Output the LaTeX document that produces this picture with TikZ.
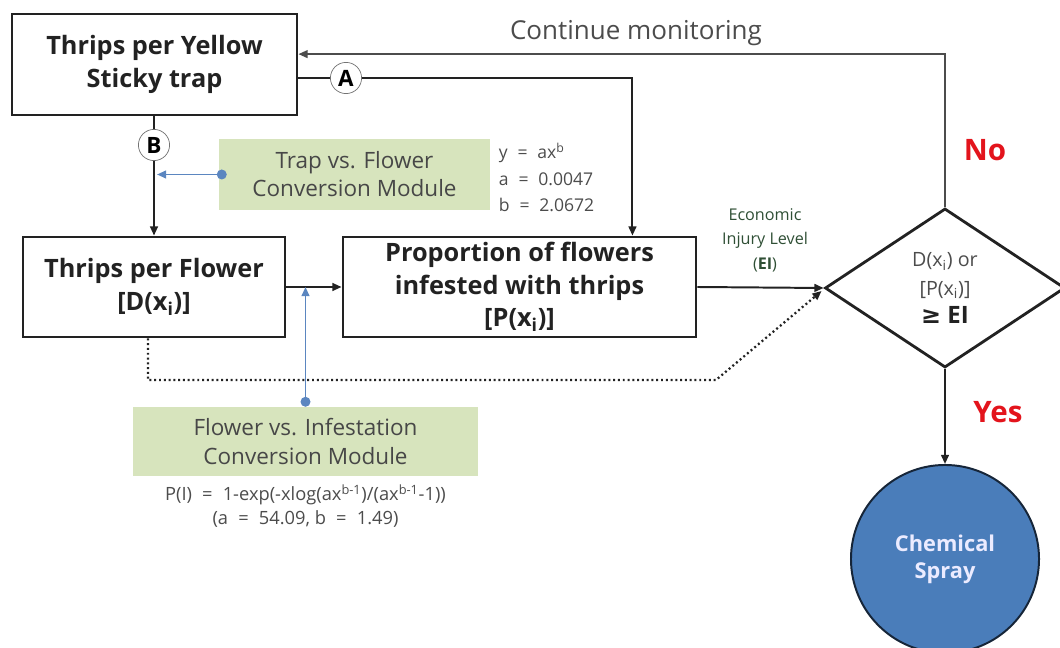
\documentclass[tikz,border=0pt]{standalone}
\usepackage{fontspec}
\setmainfont{Open Sans}
\newfontfamily\symfont{DejaVu Sans}
\usetikzlibrary{positioning,arrows.meta,calc,shapes.geometric}
\definecolor{ink}{HTML}{222222}
\definecolor{modg}{HTML}{D7E4BD}
\definecolor{linkb}{HTML}{5B86C0}
\definecolor{sprayb}{HTML}{4A7DBA}
\definecolor{nored}{HTML}{E3141C}
\definecolor{eig}{HTML}{2F4F35}

\begin{document}
\begin{tikzpicture}[x=0.025cm,y=-0.025cm,
  box/.style={draw=ink,line width=2pt,align=center,text=ink,inner sep=0pt,
    font=\fontsize{18}{23}\selectfont\bfseries},
  module/.style={fill=modg,align=center,text=black!72,inner sep=0pt,
    font=\fontsize{16}{20}\selectfont},
  tag/.style={circle,draw=black!55,line width=0.5pt,fill=white,inner sep=0pt,
    minimum size=0.78cm,font=\fontsize{16}{16}\selectfont\bfseries},
  arr/.style={ink,line width=1.4pt,-{Triangle[length=6.5pt,width=5.5pt]}},
  bluelink/.style={linkb,line width=1.4pt,{Circle[length=7pt]}-{Triangle[length=6.5pt,width=5.5pt]}},
  note/.style={align=left,text=black!70,font=\fontsize{12.5}{19}\selectfont},
  answer/.style={nored,font=\fontsize{21}{21}\selectfont\bfseries}]
\useasboundingbox (0,0) rectangle (1060,648);
% main boxes
\node[box,minimum width=7.125cm,minimum height=2.525cm] (trap) at (154.5,64.5)
  {Thrips per Yellow\\Sticky trap};
\node[box,minimum width=6.55cm,minimum height=2.5cm] (flower) at (154,287)
  {Thrips per Flower\\{}[D(x\textsubscript{i})]};
\node[box,minimum width=8.825cm,minimum height=2.5cm] (prop) at (519.5,287)
  {Proportion of flowers\\infested with thrips\\{}[P(x\textsubscript{i})]};
% decision and action
\node[diamond,draw=ink,line width=2pt,inner sep=0pt,minimum width=6cm,minimum height=3.975cm,
  align=center,text=black!70,font=\fontsize{14}{20}\selectfont] (dec) at (945,288)
  {D(x\textsubscript{i}) or\\{}[P(x\textsubscript{i})]\\{\color{ink}\fontsize{17}{20}\selectfont\bfseries{\symfont ≥} EI}};
\node[circle,draw=black!70!sprayb,line width=1.4pt,fill=sprayb,minimum size=4.7cm,inner sep=0pt,
  align=center,text=blue!8,font=\fontsize{15.5}{19}\selectfont\bfseries] (spray) at (945,559)
  {Chemical\\Spray};
% conversion modules
\node[module,minimum width=6.775cm,minimum height=1.775cm] (tfm) at (354.5,174.5)
  {Trap vs. Flower\\Conversion Module};
\node[module,minimum width=8.625cm,minimum height=1.725cm] (fim) at (305.5,441.5)
  {Flower vs. Infestation\\Conversion Module};
\node[note,anchor=north west] (tfmeq) at (494,138)
  {y\;\;=\;\;ax\textsuperscript{b}\\a\;\;=\;\;0.0047\\b\;\;=\;\;2.0672};
\node[note,align=center,font=\fontsize{13}{17}\selectfont,anchor=north] (fimeq) at (305.5,480)
  {P(I)\;\;=\;\;1-exp(-xlog(ax\textsuperscript{b-1})/(ax\textsuperscript{b-1}-1))\\(a\;\;=\;\;54.09, b\;\;=\;\;1.49)};
% tags on the two routes
\node[tag] (ca) at (346,78) {A};
\node[tag] (cb) at (154,145) {B};
% route A: straight to the infestation box
\draw[ink,line width=1.4pt] (trap.east |- ca) -- (ca);
\draw[arr] (ca) -| ($(prop.north east)+(-65,0)$);
% route B: through the trap conversion
\draw[ink,line width=1.4pt] (trap.south -| cb) -- (cb);
\draw[arr] (cb) -- (cb |- flower.north);
\draw[bluelink] ($(tfm.west)+(8,0)$) -- ($(cb |- tfm.west)+(3,0)$);
% flower to infestation
\draw[arr] (flower.east) -- (prop.west);
\draw[bluelink] (fim.north) -- (fim.north |- flower.east);
% both measures against the threshold
\draw[arr] (prop.east) -- (dec.west);
\draw[arr,dotted,line width=1.6pt] ($(flower.south)+(-6,0)$) |- (716,380) -- ($(dec.west)+(-2,3)$);
\node[align=center,text=eig,font=\fontsize{11.5}{17.5}\selectfont] (eil) at (765,240)
  {Economic\\Injury Level\\(\textbf{EI})};
% outcomes
\draw[arr,black!70,line width=1.2pt] (dec.north) |- ($(trap.north east)!0.4!(trap.south east)$);
\node[text=black!70,font=\fontsize{18.5}{20}\selectfont] (cont) at (636,33) {Continue monitoring};
\node[answer] (no) at (985,150) {No};
\draw[arr] (dec.south) -- (spray.north);
\node[answer] (yes) at (998,412) {Yes};
\end{tikzpicture}
\end{document}
